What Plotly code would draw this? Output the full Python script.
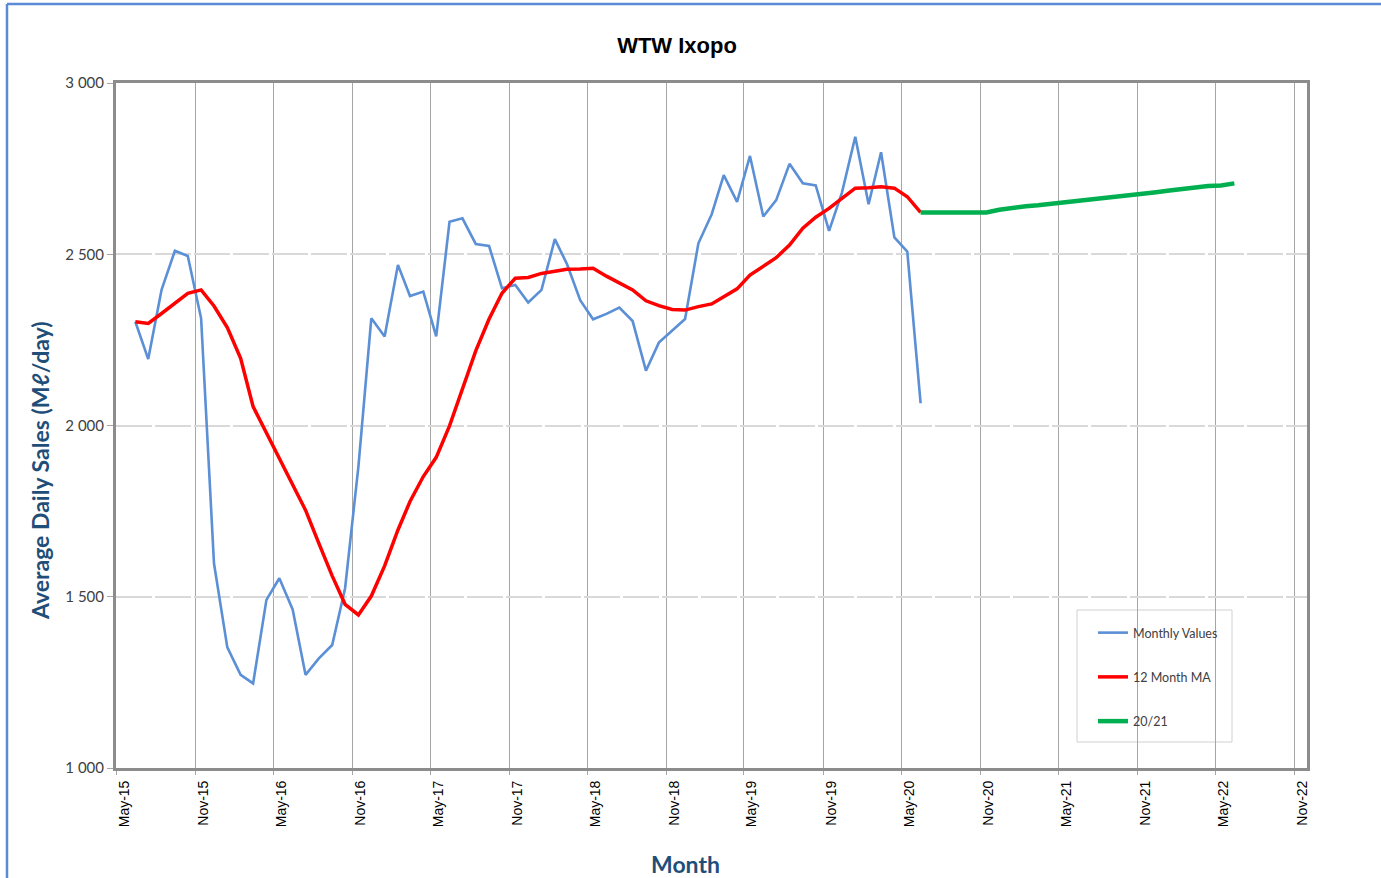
import pandas as pd
import plotly.graph_objects as go

# ---- data ----
monthly_months = ["2015-06", "2015-07", "2015-08", "2015-09", "2015-10", "2015-11",
                  "2015-12", "2016-01", "2016-02", "2016-03", "2016-04", "2016-05",
                  "2016-06", "2016-07", "2016-08", "2016-09", "2016-10", "2016-11",
                  "2016-12", "2017-01", "2017-02", "2017-03", "2017-04", "2017-05",
                  "2017-06", "2017-07", "2017-08", "2017-09", "2017-10", "2017-11",
                  "2017-12", "2018-01", "2018-02", "2018-03", "2018-04", "2018-05",
                  "2018-06", "2018-07", "2018-08", "2018-09", "2018-10", "2018-11",
                  "2018-12", "2019-01", "2019-02", "2019-03", "2019-04", "2019-05",
                  "2019-06", "2019-07", "2019-08", "2019-09", "2019-10", "2019-11",
                  "2019-12", "2020-01", "2020-02", "2020-03", "2020-04", "2020-05",
                  "2020-06"]

monthly_values = [2303, 2194, 2396, 2510, 2495, 2313,
                  1597, 1352, 1272, 1247, 1491, 1554,
                  1463, 1272, 1320, 1359, 1525, 1880,
                  2313, 2260, 2469, 2378, 2391, 2260,
                  2595, 2605, 2530, 2524, 2401, 2410,
                  2359, 2396, 2544, 2472, 2366, 2310,
                  2326, 2344, 2305, 2160, 2242, 2277,
                  2311, 2532, 2617, 2731, 2653, 2787,
                  2610, 2658, 2764, 2707, 2701, 2568,
                  2680, 2843, 2646, 2798, 2549, 2508,
                  2065]

ma_values = [2303, 2298, 2327, 2357, 2386, 2396,
             2349, 2286, 2196, 2055, 1979, 1902,
             1826, 1753, 1656, 1561, 1478, 1447,
             1502, 1590, 1695, 1778, 1851, 1907,
             1999, 2110, 2218, 2311, 2386, 2430,
             2432, 2444, 2449, 2456, 2457, 2459,
             2436, 2415, 2396, 2364, 2350, 2339,
             2337, 2347, 2355, 2376, 2399, 2439,
             2464, 2490, 2527, 2576, 2608, 2634,
             2663, 2693, 2694, 2697, 2693, 2668,
             2622]

forecast_months = ["2020-06", "2020-07", "2020-08", "2020-09", "2020-10", "2020-11",
                   "2020-12", "2021-01", "2021-02", "2021-03", "2021-04", "2021-05",
                   "2021-06", "2021-07", "2021-08", "2021-09", "2021-10", "2021-11",
                   "2021-12", "2022-01", "2022-02", "2022-03", "2022-04", "2022-05",
                   "2022-06"]

forecast_values = [2622, 2622, 2622, 2622, 2622, 2622,
                   2630, 2636, 2640, 2643, 2647, 2652,
                   2657, 2661, 2664, 2668, 2673, 2677,
                   2681, 2686, 2691, 2695, 2699, 2701,
                   2707]

# points sit in the middle of each month (Excel date axis, between tick marks)
mid = pd.Timedelta(days=14)
x_monthly = pd.to_datetime(monthly_months) + mid
x_forecast = pd.to_datetime(forecast_months) + mid

# ---- layout geometry (pixels) ----
W, H = 1381, 878
L, R, T, B = 116, 1307, 83, 768


def px_x(p):
    return (p - L) / (R - L)


def px_y(p):
    return (B - p) / (B - T)


fig = go.Figure()

fig.add_trace(go.Scatter(x=x_monthly, y=monthly_values, mode="lines",
                         name="Monthly Values", legendgroup="a",
                         line=dict(color="#5B8FD6", width=2.6)))
fig.add_trace(go.Scatter(x=x_monthly, y=ma_values, mode="lines",
                         name="12 Month MA", legendgroup="b",
                         line=dict(color="#FF0000", width=3.5)))
fig.add_trace(go.Scatter(x=x_forecast, y=forecast_values, mode="lines",
                         name="20/21", legendgroup="c",
                         line=dict(color="#00B050", width=4.5)))

axis_title_color = "#1F4E79"

fig.update_layout(
    width=W, height=H,
    margin=dict(l=L, r=W - R, t=T, b=H - B, autoexpand=False),
    paper_bgcolor="white",
    plot_bgcolor="white",
    separators=". ",
    title=dict(text="<b>WTW Ixopo</b>", x=677 / W, xref="container", xanchor="center",
               y=1 - 45 / H, yref="container", yanchor="middle",
               font=dict(family="Liberation Sans", size=22, color="#000000")),
    showlegend=True,
    legend=dict(x=px_x(1093), y=px_y(618), xanchor="left", yanchor="top",
                bgcolor="rgba(0,0,0,0)", borderwidth=0,
                traceorder="grouped", tracegroupgap=25,
                font=dict(family="Lato", size=12.5, color="#404040")),
    xaxis=dict(
        type="date",
        range=["2015-05-01", "2022-12-01"],
        tick0="2015-05-01", dtick="M6", tickformat="%b-%y",
        tickangle=-90,
        tickfont=dict(family="Liberation Sans", size=14, color="#000000"),
        ticklabelshift=8,
        ticks="outside", ticklen=4, tickcolor="#A6A6A6",
        showgrid=True, gridcolor="#A6A6A6", gridwidth=1,
        showline=True, linecolor="#8C8C8C", linewidth=3, mirror=True,
        zeroline=False,
    ),
    yaxis=dict(
        range=[1000, 3000], dtick=500, tick0=1000, tickformat=",d",
        tickfont=dict(family="Lato", size=15, color="#404040"),
        ticks="outside", ticklen=6, tickcolor="#A6A6A6",
        showgrid=True, gridcolor="#D9D9D9", gridwidth=1.5, griddash="36px,3px",
        showline=True, linecolor="#8C8C8C", linewidth=3, mirror=True,
        zeroline=False,
    ),
    annotations=[
        dict(text="<b>Average Daily Sales (M\u2113/day)</b>", textangle=-90,
             x=px_x(40), y=px_y(471), xref="paper", yref="paper",
             xanchor="center", yanchor="middle", showarrow=False,
             font=dict(family="Lato", size=23, color=axis_title_color)),
        dict(text="<b>Month</b>",
             x=px_x(685), y=px_y(864), xref="paper", yref="paper",
             xanchor="center", yanchor="middle", showarrow=False,
             font=dict(family="Lato", size=23, color=axis_title_color)),
    ],
    shapes=[
        # legend box
        dict(type="rect", xref="paper", yref="paper",
             x0=px_x(1077), x1=px_x(1232), y0=px_y(742), y1=px_y(610),
             line=dict(color="#D0D0D0", width=1), fillcolor="white", layer="below"),
        # outer chart frame (left and top edges visible)
        dict(type="line", xref="paper", yref="paper",
             x0=px_x(7), x1=px_x(7), y0=px_y(H + 10), y1=px_y(4),
             line=dict(color="#5B8BD6", width=2.5)),
        dict(type="line", xref="paper", yref="paper",
             x0=px_x(7), x1=px_x(W + 10), y0=px_y(4), y1=px_y(4),
             line=dict(color="#5B8BD6", width=2.5)),
    ],
)

fig.write_html("out.html", config={"displayModeBar": False},
               post_script="document.body.style.margin='0';")
